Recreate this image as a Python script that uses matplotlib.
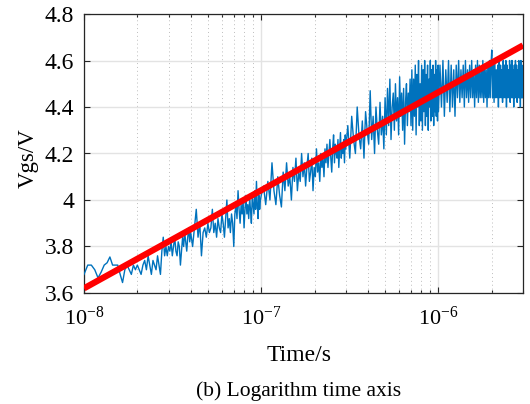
import numpy as np
import matplotlib
matplotlib.use('Agg')
import matplotlib.pyplot as plt
from matplotlib.ticker import FixedLocator, NullFormatter

# sampling grid of the measured trace, in ns (segments: start, stop, step)
t_seg1 = np.arange(10.0, 40.0, 0.5)
t_seg2 = np.arange(40.0, 100.0, 1.0)
t_seg3 = np.arange(100.0, 300.0, 3.0)
t_seg4 = np.arange(300.0, 1000.0, 8.0)
t_seg5 = np.arange(1000.0, 3000.0, 20.0)

# Vgs readings (V) for each segment
v_seg1 = [3.68, 3.72, 3.72, 3.70, 3.665, 3.69, 3.72, 3.73, 3.755, 3.72,
          3.72, 3.72, 3.68, 3.645, 3.70, 3.72, 3.70, 3.68, 3.72, 3.70,
          3.72, 3.70, 3.68, 3.72, 3.74, 3.70, 3.76, 3.72, 3.68, 3.74,
          3.72, 3.70, 3.76, 3.72, 3.68, 3.78, 3.84, 3.76, 3.80, 3.76,
          3.80, 3.78, 3.82, 3.76, 3.80, 3.84, 3.78, 3.76, 3.82, 3.80,
          3.72, 3.78, 3.84, 3.80, 3.86, 3.82, 3.78, 3.84, 3.88, 3.82]
v_seg2 = [3.86, 3.80, 3.88, 3.96, 3.84, 3.90, 3.76, 3.86, 3.88, 3.84,
          3.90, 3.86,
          3.88, 3.96, 3.86, 3.90, 3.84, 3.92, 3.88, 3.86, 3.94, 3.90,
          3.84, 3.92, 4.00, 3.88, 3.92, 3.86, 3.94, 3.90,
          3.80, 3.94, 3.98, 3.92, 4.04, 3.96, 3.90, 3.98, 3.94, 4.00,
          3.88, 3.96, 4.02, 3.94, 3.98, 3.92, 4.00, 3.96, 3.90, 4.02,
          3.98, 3.94, 4.04, 3.96, 4.08, 3.98, 3.92, 4.02, 3.96, 4.00]
v_seg3 = [4.02, 4.06, 3.98, 4.08, 4.00, 4.16, 4.04, 3.98, 4.10, 4.02,
          3.97, 4.12, 4.04, 4.16, 4.06, 4.10, 4.00, 4.14, 4.08, 4.18,
          4.04, 4.12, 4.08, 4.20,
          4.10, 4.16, 4.06, 4.14, 4.20, 4.08, 4.12, 4.18, 4.04, 4.14,
          4.10, 4.22, 4.12, 4.16, 4.08, 4.20, 4.14, 4.18, 4.10, 4.22,
          4.16, 4.24, 4.14, 4.20, 4.26, 4.18, 4.12, 4.22, 4.28, 4.16,
          4.24, 4.20, 4.18, 4.26, 4.14, 4.22, 4.29, 4.18, 4.24, 4.20,
          4.26, 4.16, 4.28]
v_seg4 = [4.22, 4.32, 4.18, 4.36, 4.26, 4.20, 4.40, 4.28, 4.22, 4.34,
          4.18, 4.38, 4.30, 4.24, 4.47, 4.26, 4.36, 4.20, 4.40, 4.30,
          4.24, 4.42, 4.28, 4.36, 4.22,
          4.44, 4.28, 4.48, 4.32, 4.52, 4.26, 4.40, 4.46, 4.30, 4.50,
          4.34, 4.44, 4.28, 4.53, 4.36, 4.46, 4.30, 4.48, 4.24, 4.42,
          4.50, 4.32, 4.46, 4.38, 4.52,
          4.32, 4.56, 4.30, 4.52, 4.36, 4.58, 4.28, 4.54, 4.40, 4.60,
          4.32, 4.50, 4.34, 4.58, 4.30, 4.56, 4.38, 4.60, 4.32, 4.54,
          4.36, 4.58, 4.30, 4.52, 4.40, 4.60, 4.34, 4.56, 4.36, 4.58,
          4.32, 4.54, 4.38, 4.60, 4.36, 4.56, 4.34, 4.58]
v_seg5 = [4.38, 4.58, 4.40, 4.60, 4.36, 4.56, 4.42, 4.60, 4.38, 4.58,
          4.40, 4.56, 4.36,
          4.58, 4.44, 4.60, 4.42, 4.56, 4.44, 4.58, 4.40, 4.60, 4.44,
          4.56, 4.42, 4.58, 4.44, 4.60, 4.44, 4.56, 4.40, 4.58, 4.44,
          4.60, 4.42, 4.58, 4.44, 4.56, 4.44, 4.60, 4.42, 4.58, 4.44,
          4.56, 4.40, 4.58, 4.44, 4.60, 4.44, 4.58,
          4.645, 4.44, 4.58, 4.42, 4.60, 4.44, 4.56, 4.44, 4.58, 4.40,
          4.60, 4.44, 4.58, 4.44, 4.56, 4.42, 4.60, 4.44, 4.58, 4.44,
          4.60, 4.40, 4.58, 4.44, 4.56, 4.44, 4.60, 4.42, 4.58, 4.44,
          4.60, 4.44, 4.56, 4.40, 4.58, 4.44, 4.60, 4.44, 4.58, 4.42,
          4.56, 4.44, 4.60, 4.44, 4.58, 4.40, 4.60, 4.44, 4.58, 4.44]

# fitted line (log-linear), endpoints
fit_t = [1e-8, 3e-6]
fit_v = [3.62, 4.665]

y_ticks = [3.6, 3.8, 4.0, 4.2, 4.4, 4.6, 4.8]
y_labels = ['3.6', '3.8', '4', '4.2', '4.4', '4.6', '4.8']
x_ticks = [1e-8, 1e-7, 1e-6]
x_labels = ['$10^{-8}$', '$10^{-7}$', '$10^{-6}$']

plt.rcParams['font.family'] = ['Liberation Serif', 'DejaVu Serif']
plt.rcParams['mathtext.fontset'] = 'custom'
plt.rcParams['mathtext.rm'] = 'Liberation Serif'
plt.rcParams['mathtext.it'] = 'Liberation Serif:italic'


def plot_vgs():
    t = np.concatenate([t_seg1, t_seg2, t_seg3, t_seg4, t_seg5]) * 1e-9
    v = np.concatenate([v_seg1, v_seg2, v_seg3, v_seg4, v_seg5])

    fig = plt.figure(figsize=(5.3, 4.04), dpi=100)
    ax = fig.add_axes([84/530, 1-293/404, 439/530, 279/404])

    ax.plot(t, v, color='#0072BD', lw=1.0, zorder=3)
    ax.plot(fit_t, fit_v, color='#FF0000', lw=4.5, solid_capstyle='butt', zorder=4)

    ax.set_xscale('log')
    ax.set_xlim(1e-8, 3e-6)
    ax.set_ylim(3.6, 4.8)

    ax.xaxis.set_major_locator(FixedLocator(x_ticks))
    ax.set_xticklabels(x_labels)
    minors = [m * 10.0**e for e in (-8, -7, -6) for m in range(2, 10) if m * 10.0**e <= 3e-6]
    ax.xaxis.set_minor_locator(FixedLocator(minors))
    ax.xaxis.set_minor_formatter(NullFormatter())
    ax.set_yticks(y_ticks)
    ax.set_yticklabels(y_labels)

    ax.grid(True, which='major', axis='both', color='#E3E3E3', lw=1.0, zorder=0)
    ax.grid(True, which='minor', axis='x', color='#BDBDBD', lw=0.7, ls=(0, (1, 3)), zorder=0)
    ax.set_axisbelow(True)

    ax.tick_params(which='both', direction='in', top=True, right=True,
                   color='#262626', width=0.8)
    ax.tick_params(axis='x', which='major', labelsize=16, pad=10)
    ax.tick_params(axis='y', which='major', labelsize=17, pad=7)
    ax.tick_params(which='major', length=4)
    ax.tick_params(which='minor', length=2.5)
    for s in ax.spines.values():
        s.set_color('#262626')
        s.set_linewidth(0.9)

    ax.set_xlabel('Time/s', fontsize=17, va='baseline')
    ax.xaxis.set_label_coords(0.49, -0.2437)
    ax.set_ylabel('Vgs/V', fontsize=16.5, va='center', ha='center')
    ax.yaxis.set_label_coords(-0.1276, 0.484)

    fig.text(0.5632, 1-396/404, '(b) Logarithm time axis', fontsize=15.5,
             ha='center', va='baseline')

    fig.savefig('out.png', dpi=100)


plot_vgs()
